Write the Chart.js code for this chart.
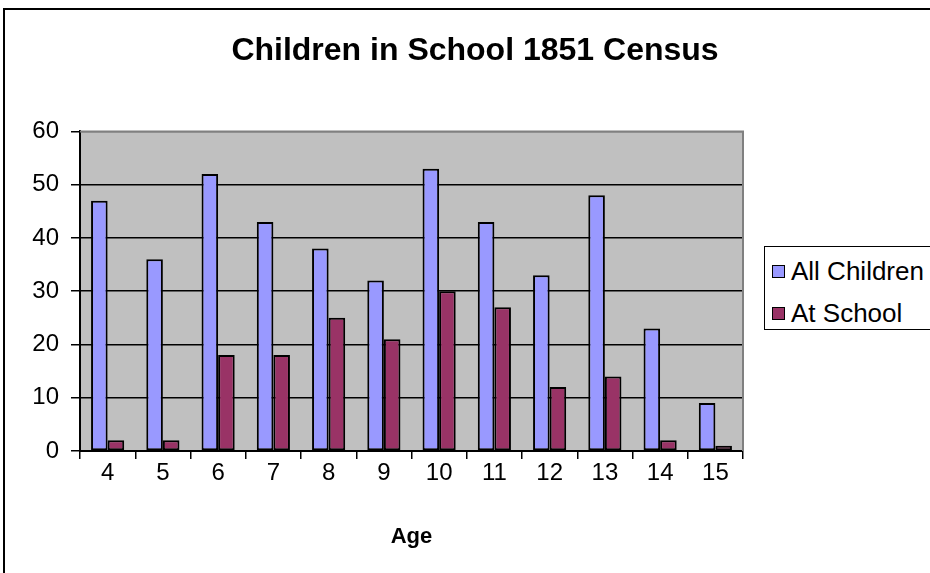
<!DOCTYPE html>
<html>
<head>
<meta charset="utf-8">
<script src="https://cdn.jsdelivr.net/npm/chart.js@4"></script>
<style>
  html, body { margin:0; padding:0; background:#fff; overflow:hidden; }
  body { width:930px; height:573px; position:relative; font-family:"Liberation Sans", Arial, sans-serif; }
  #frame { position:absolute; left:3px; top:8px; width:1000px; height:700px; border:2px solid #000; box-sizing:border-box; }
  #wrap { position:absolute; left:0; top:0; width:950px; height:573px; }
  #legend { position:absolute; left:764px; top:246px; width:300px; height:84px; border:1.5px solid #000; box-sizing:border-box; background:#fff; }
  .item { position:absolute; left:7px; font-size:26px; color:#000; line-height:26px; white-space:nowrap; }
  .sw { display:inline-block; width:11px; height:11px; border:1.5px solid #000; margin-right:6px; vertical-align:2px; }
</style>
</head>
<body>
<div id="frame"></div>
<div id="wrap"><canvas id="chart" width="950" height="573"></canvas></div>
<div id="legend"></div>
<script>
// data
const AGES = ['4','5','6','7','8','9','10','11','12','13','14','15'];
const ALL_CHILDREN = [47, 36, 52, 43, 38, 32, 53, 43, 33, 48, 23, 9];
const AT_SCHOOL = [2, 2, 18, 18, 25, 21, 30, 27, 12, 14, 2, 1];
const Y_TICKS = [0, 10, 20, 30, 40, 50, 60];

const FONT = '"Liberation Sans", Arial, sans-serif';

// grey plot background + grey top/right edge
const plotBg = {
  id: 'plotBg',
  beforeDraw(chart){
    const {ctx, chartArea:a} = chart;
    ctx.save();
    ctx.fillStyle = '#C0C0C0';
    ctx.fillRect(a.left, a.top, a.right - a.left, a.bottom - a.top);
    ctx.restore();
  },
  afterDatasetsDraw(chart){
    const {ctx, chartArea:a} = chart;
    ctx.save();
    ctx.strokeStyle = '#808080';
    ctx.lineWidth = 2;
    ctx.beginPath();
    ctx.moveTo(a.left, a.top); ctx.lineTo(a.right, a.top); ctx.lineTo(a.right, a.bottom);
    ctx.stroke();
    ctx.restore();
  }
};

// empty box on the right where the html legend sits, so the title stays centred on the whole canvas
const rightSpacer = {
  id: 'rightSpacer',
  beforeInit(chart){
    Chart.layouts.addBox(chart, {
      position:'right', weight:0, fullSize:false, options:{},
      isHorizontal(){ return false; },
      getPadding(){ return {top:0, left:0, right:0, bottom:0}; },
      update(maxW, maxH){ this.width = 207; this.height = maxH; },
      draw(){}
    });
  }
};

const chart = new Chart(document.getElementById('chart').getContext('2d'), {
  type: 'bar',
  data: {
    labels: AGES,
    datasets: [
      { label:'All Children', data: ALL_CHILDREN, backgroundColor:'#9999FF', borderColor:'#000', borderWidth:2, borderSkipped:false },
      { label:'At School', data: AT_SCHOOL, backgroundColor:'#993366', borderColor:'#000', borderWidth:2, borderSkipped:false }
    ]
  },
  options: {
    responsive:false,
    animation:false,
    layout:{ padding:0 },
    datasets:{ bar:{ categoryPercentage:0.6, barPercentage:1.0 } },
    plugins:{
      legend:{ display:false },
      tooltip:{ enabled:false },
      title:{
        display:true,
        text:'Children in School 1851 Census',
        color:'#000',
        font:{ family:FONT, size:32, weight:'bold', lineHeight:1.2 },
        padding:{ top:32, bottom:61 }
      }
    },
    scales:{
      x:{
        grid:{ drawOnChartArea:false, drawTicks:true, tickLength:8, color:'#000', lineWidth:1.5, offset:true },
        border:{ display:true, color:'#000', width:2 },
        ticks:{ color:'#000', font:{ family:FONT, size:24 }, padding:0, maxRotation:0 },
        title:{ display:true, text:'Age', color:'#000', font:{ family:FONT, size:22, weight:'bold', lineHeight:1.2 }, padding:{ top:0, bottom:23 } },
        afterFit(scale){ scale.height = 122; }
      },
      y:{
        min:0, max:60,
        afterBuildTicks(scale){ scale.ticks = Y_TICKS.map(v => ({value:v})); },
        grid:{ color: c => (c.tick && c.tick.value === 60) ? '#808080' : '#000', lineWidth:1.5, tickLength:9, tickColor:'#000' },
        border:{ display:true, color:'#000', width:2 },
        ticks:{ color:'#000', font:{ family:FONT, size:24 }, padding:12 },
        afterFit(scale){ scale.width = 80; }
      }
    }
  },
  plugins:[plotBg, rightSpacer]
});

// html legend from the datasets
const legendEl = document.getElementById('legend');
chart.data.datasets.forEach((ds, i) => {
  const it = document.createElement('div');
  it.className = 'item';
  it.style.top = (11 + i * 42) + 'px';
  it.innerHTML = `<span class="sw" style="background:${ds.backgroundColor}"></span>${ds.label}`;
  legendEl.appendChild(it);
});
</script>
</body>
</html>
